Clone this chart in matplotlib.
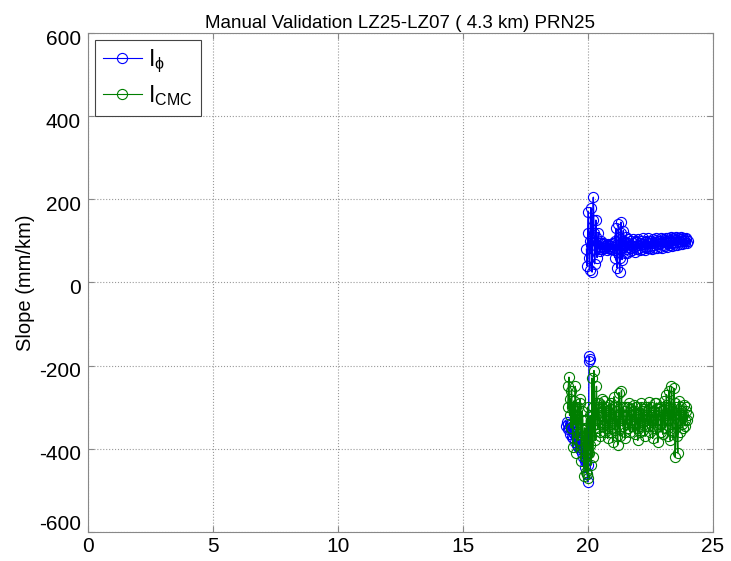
import matplotlib
matplotlib.use("Agg")
import matplotlib.pyplot as plt
import matplotlib.transforms as mtrans
import numpy as np

plt.rcParams['font.family'] = ['Liberation Sans', 'DejaVu Sans']
plt.rcParams['mathtext.fontset'] = 'custom'
plt.rcParams['mathtext.rm'] = 'Liberation Sans'
plt.rcParams['mathtext.it'] = 'Liberation Sans:italic'
plt.rcParams['axes.unicode_minus'] = False

# --- data (hours, mm/km) ---
# I_phi, first arc (negative slope)
t_phi_a = [19.150, 19.175, 19.200, 19.225, 19.250, 19.275, 19.300, 19.325,
           19.350, 19.375, 19.400, 19.425, 19.450, 19.475, 19.500, 19.525,
           19.550, 19.575, 19.600, 19.625, 19.650, 19.675, 19.700, 19.725,
           19.750, 19.775, 19.800, 19.825, 19.850, 19.875, 19.900, 19.925,
           19.950, 19.975, 20.000, 20.025, 20.050, 20.060, 20.075]
phi_a = [-345, -335, -352, -340, -350, -340, -365, -350,
         -350, -372, -360, -375, -365, -385, -360, -370,
         -370, -390, -395, -380, -385, -400, -395, -380,
         -390, -410, -420, -400, -395, -430, -445, -420,
         -430, -460, -480, -440, -190, -178, -185]

# I_phi, second arc (positive slope)
t_phi_b = [19.950, 19.975, 20.000, 20.025, 20.050, 20.075, 20.100, 20.125,
           20.150, 20.175, 20.200, 20.225, 20.250, 20.275, 20.300, 20.325,
           20.350, 20.375, 20.400, 20.425, 20.450, 20.475, 20.500, 20.525,
           20.550, 20.575, 20.600, 20.625, 20.650, 20.675, 20.700, 20.725,
           20.750, 20.775, 20.800, 20.825, 20.850, 20.875, 20.900, 20.925,
           20.950, 20.975, 21.000, 21.025, 21.050, 21.075, 21.100, 21.125,
           21.150, 21.175, 21.200, 21.225, 21.250, 21.275, 21.300, 21.325,
           21.350, 21.375, 21.400, 21.425, 21.450, 21.475, 21.500, 21.525,
           21.550, 21.575, 21.600, 21.625, 21.650, 21.675, 21.700, 21.725,
           21.750, 21.775, 21.800, 21.825, 21.850, 21.875, 21.900, 21.925,
           21.950, 21.975, 22.000, 22.025, 22.050, 22.075, 22.100, 22.125,
           22.150, 22.175, 22.200, 22.225, 22.250, 22.275, 22.300, 22.325,
           22.350, 22.375, 22.400, 22.425, 22.450, 22.475, 22.500, 22.525,
           22.550, 22.575, 22.600, 22.625, 22.650, 22.675, 22.700, 22.725,
           22.750, 22.775, 22.800, 22.825, 22.850, 22.875, 22.900, 22.925,
           22.950, 22.975, 23.000, 23.025, 23.050, 23.075, 23.100, 23.125,
           23.150, 23.175, 23.200, 23.225, 23.250, 23.275, 23.300, 23.325,
           23.350, 23.375, 23.400, 23.425, 23.450, 23.475, 23.500, 23.525,
           23.550, 23.575, 23.600, 23.625, 23.650, 23.675, 23.700, 23.725,
           23.750, 23.775, 23.800, 23.825, 23.850, 23.875, 23.900, 23.925,
           23.950, 23.975, 24.000]
phi_b = [80, 40, 120, 170, 60, 30, 100, 180,
         90, 25, 150, 205, 120, 45, 80, 150,
         110, 60, 95, 120, 80, 75, 95, 100,
         85, 80, 92, 95, 84, 82, 88, 90,
         86, 78, 84, 92, 88, 84, 80, 88,
         92, 80, 86, 95, 78, 60, 100, 130,
         90, 35, 80, 140, 110, 25, 60, 145,
         120, 55, 85, 125, 100, 70, 95, 110,
         80, 72, 95, 104, 85, 76, 90, 100,
         84, 78, 96, 104, 86, 74, 88, 98,
         100, 80, 90, 104, 84, 78, 94, 100,
         96, 80, 92, 106, 88, 78, 86, 100,
         98, 82, 94, 108, 96, 82, 88, 100,
         96, 80, 90, 104, 94, 84, 98, 108,
         102, 84, 92, 100, 94, 86, 100, 106,
         96, 84, 90, 104, 98, 88, 102, 108,
         100, 86, 95, 106, 98, 90, 102, 110,
         100, 88, 96, 108, 98, 90, 104, 110,
         102, 90, 98, 108, 100, 92, 104, 110,
         104, 92, 100, 108, 102, 94, 100, 106,
         104, 96, 100]

# I_CMC
t_cmc = [19.200, 19.225, 19.250, 19.275, 19.300, 19.325, 19.350, 19.375,
         19.400, 19.425, 19.450, 19.475, 19.500, 19.525, 19.550, 19.575,
         19.600, 19.625, 19.650, 19.675, 19.700, 19.725, 19.750, 19.775,
         19.800, 19.825, 19.850, 19.875, 19.900, 19.925, 19.950, 19.975,
         20.000, 20.025, 20.050, 20.075, 20.100, 20.125, 20.150, 20.175,
         20.200, 20.225, 20.250, 20.275, 20.300, 20.325, 20.350, 20.375,
         20.400, 20.425, 20.450, 20.475, 20.500, 20.525, 20.550, 20.575,
         20.600, 20.625, 20.650, 20.675, 20.700, 20.725, 20.750, 20.775,
         20.800, 20.825, 20.850, 20.875, 20.900, 20.925, 20.950, 20.975,
         21.000, 21.025, 21.050, 21.075, 21.100, 21.125, 21.150, 21.175,
         21.200, 21.225, 21.250, 21.275, 21.300, 21.325, 21.350, 21.375,
         21.400, 21.425, 21.450, 21.475, 21.500, 21.525, 21.550, 21.575,
         21.600, 21.625, 21.650, 21.675, 21.700, 21.725, 21.750, 21.775,
         21.800, 21.825, 21.850, 21.875, 21.900, 21.925, 21.950, 21.975,
         22.000, 22.025, 22.050, 22.075, 22.100, 22.125, 22.150, 22.175,
         22.200, 22.225, 22.250, 22.275, 22.300, 22.325, 22.350, 22.375,
         22.400, 22.425, 22.450, 22.475, 22.500, 22.525, 22.550, 22.575,
         22.600, 22.625, 22.650, 22.675, 22.700, 22.725, 22.750, 22.775,
         22.800, 22.825, 22.850, 22.875, 22.900, 22.925, 22.950, 22.975,
         23.000, 23.025, 23.050, 23.075, 23.100, 23.125, 23.150, 23.175,
         23.200, 23.225, 23.250, 23.275, 23.300, 23.325, 23.350, 23.375,
         23.400, 23.425, 23.450, 23.475, 23.500, 23.525, 23.550, 23.575,
         23.600, 23.625, 23.650, 23.675, 23.700, 23.725, 23.750, 23.775,
         23.800, 23.825, 23.850, 23.875, 23.900, 23.925, 23.950, 23.975,
         24.000]
cmc = [-300, -250, -228, -320, -280, -350, -260, -300,
       -395, -300, -285, -340, -250, -300, -410, -330,
       -300, -380, -365, -290, -280, -350, -430, -310,
       -330, -400, -465, -350, -420, -455, -330, -460,
       -300, -470, -410, -390, -320, -440, -370, -230,
       -420, -300, -212, -330, -380, -290, -250, -340,
       -350, -300, -290, -360, -370, -320, -300, -280,
       -345, -310, -285, -330, -360, -300, -310, -350,
       -375, -320, -295, -360, -340, -290, -305, -350,
       -385, -300, -275, -340, -355, -310, -300, -370,
       -390, -320, -265, -350, -370, -300, -260, -330,
       -345, -300, -310, -360, -375, -320, -300, -340,
       -350, -300, -290, -330, -360, -320, -305, -345,
       -340, -310, -295, -335, -365, -300, -300, -350,
       -380, -320, -315, -360, -345, -300, -290, -335,
       -355, -310, -305, -345, -370, -330, -300, -320,
       -345, -310, -288, -330, -360, -320, -300, -345,
       -375, -330, -310, -290, -350, -330, -290, -340,
       -385, -330, -305, -300, -340, -360, -300, -320,
       -365, -310, -285, -330, -350, -300, -270, -320,
       -370, -330, -260, -300, -380, -340, -250, -310,
       -360, -320, -255, -290, -420, -340, -300, -370,
       -410, -330, -285, -320, -360, -310, -300, -340,
       -350, -320, -295, -330, -345, -310, -300, -330,
       -320]

# join the two I_phi arcs with a gap
t_phi = t_phi_a + [np.nan] + t_phi_b
phi = phi_a + [np.nan] + phi_b

fig = plt.figure(figsize=(7.31, 5.61), dpi=100)
ax = fig.add_axes([0.120, 0.052, 0.855, 0.889])

mk = dict(marker='o', markersize=7.3, markerfacecolor='none',
          markeredgewidth=0.8, linewidth=1.0)
ax.plot(t_phi, phi, color='#0000ff', label=r'$\mathrm{I}_{\mathrm{\phi}}$', **mk)
ax.plot(t_cmc, cmc, color='#007f00', label=r'$\mathrm{I}_{\mathrm{CMC}}$', **mk)

ax.set_xlim(0, 25)
ax.set_ylim(-600, 600)
ax.set_xticks([0, 5, 10, 15, 20, 25])
ax.set_yticks([-600, -400, -200, 0, 200, 400, 600])
ax.grid(True, linestyle=':', color='#999999', linewidth=0.8)
ax.tick_params(direction='in', top=True, right=True, labelsize=15,
               length=4, color='#888888')
ax.tick_params(axis='y', pad=5)
ax.tick_params(axis='x', pad=4)
for s in ax.spines.values():
    s.set_color('#888888')

# MATLAB-style label placement: y labels sit a bit low, bottom one lifted
fig.canvas.draw()
for lab in ax.get_yticklabels():
    if lab.get_text() == '-600':
        dy = 7 / 72
    else:
        dy = -3 / 72
    lab.set_transform(lab.get_transform() +
                      mtrans.ScaledTranslation(0, dy, fig.dpi_scale_trans))

ax.set_title("Manual Validation LZ25-LZ07 ( 4.3 km) PRN25", fontsize=13.5, pad=4)
ax.set_ylabel("Slope (mm/km)", fontsize=14.5, labelpad=3)

leg = ax.legend(loc='upper left', numpoints=1, fontsize=16.5, handlelength=1.7,
                fancybox=False, framealpha=1, edgecolor='#444444',
                borderaxespad=0.3, labelspacing=0.35, handletextpad=0.3,
                borderpad=0.35)
leg.get_frame().set_linewidth(0.8)
for ln in leg.get_lines():
    ln.set_linewidth(0.8)

fig.savefig("out.png", dpi=100)
